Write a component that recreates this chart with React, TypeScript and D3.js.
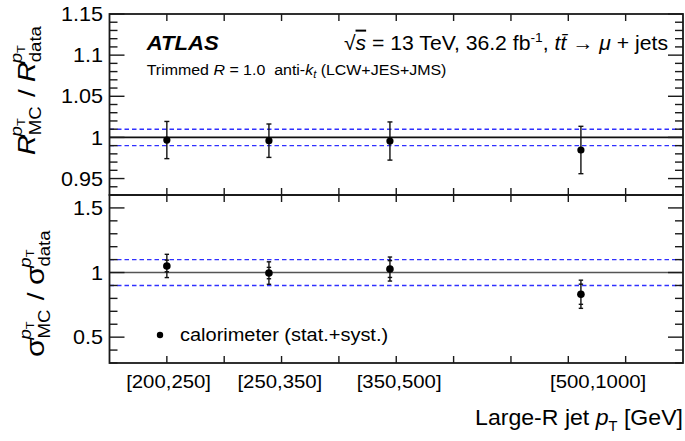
import React from "react";
import * as d3 from "d3";

const categories = ["[200,250]", "[250,350]", "[350,500]", "[500,1000]"];
const labelPos = [1.03, 2.97, 5.05, 8.52];
const pointPos = [1.0, 2.78, 4.89, 8.22];

const ratioR = [0.9968, 0.996, 0.9956, 0.9847];
const ratioRErr = [0.0226, 0.0203, 0.0232, 0.0288];

const ratioSigma = [1.051, 0.996, 1.027, 0.832];
const sigmaErrTot = [0.09, 0.087, 0.093, 0.109];
const sigmaErrStat = [0.045, 0.044, 0.065, 0.078];

const bandTop = [0.99, 1.01];
const bandBottom = [0.9, 1.1];

const topTicksMajor = [0.95, 1.0, 1.05, 1.1, 1.15];
const topTickLabels = ["0.95", "1", "1.05", "1.1", "1.15"];
const bottomTicksMajor = [0.5, 1.0, 1.5];
const bottomTickLabels = ["0.5", "1", "1.5"];

const W = 685;
const H = 441;
const L = 109.5;
const R = 683;
const T0 = 14;
const MID = 195;
const B = 363;

const FONT = "'Liberation Sans', Arial, Helvetica, sans-serif";

function Txt(props: any) {
  const { x, y, size, sx = 1.1, anchor = "start", children, weight, style, fill = "#000" } = props;
  return (
    <text
      transform={`translate(${x},${y}) scale(${sx},1)`}
      textAnchor={anchor}
      fontSize={size}
      fontFamily={FONT}
      fontWeight={weight}
      fontStyle={style}
      fill={fill}
    >
      {children}
    </text>
  );
}

export default function App() {
  const x = d3.scaleLinear().domain([0, 10]).range([L, R]);
  const yT = d3.scaleLinear().domain([0.93, 1.15]).range([MID, T0]);
  const yB = d3.scaleLinear().domain([0.3, 1.6]).range([B, MID]);

  const xTicks = d3.range(1, 10);
  const topMinor = d3.range(0, 23).map((i) => 0.93 + i * 0.01).filter((v) => v <= 1.1501);
  const botMinor = d3.range(0, 14).map((i) => 0.3 + i * 0.1).filter((v) => v <= 1.6001);

  const isMajor = (v: number, arr: number[]) => arr.some((m) => Math.abs(m - v) < 1e-6);

  const stroke = "#1a1a1a";

  return (
    <svg width={W} height={H} style={{ position: "absolute", left: 0, top: 0 }}>
      <rect width={W} height={H} fill="#fff" />

      {/* Top panel bands */}
      {bandTop.map((v, i) => (
        <line key={"bt" + i} x1={L} x2={R} y1={yT(v)} y2={yT(v)} stroke="#3030ff" strokeWidth={1.4} strokeDasharray="4.5,3" />
      ))}
      <line x1={L} x2={R} y1={yT(1)} y2={yT(1)} stroke="#111" strokeWidth={1.6} />

      {/* Bottom panel bands */}
      {bandBottom.map((v, i) => (
        <line key={"bb" + i} x1={L} x2={R} y1={yB(v)} y2={yB(v)} stroke="#3030ff" strokeWidth={1.4} strokeDasharray="4.5,3" />
      ))}
      <line x1={L} x2={R} y1={yB(1)} y2={yB(1)} stroke="#555" strokeWidth={1.6} />

      {/* Top points */}
      {ratioR.map((v, i) => {
        const px = x(pointPos[i]);
        const y1 = yT(v + ratioRErr[i]);
        const y2 = yT(v - ratioRErr[i]);
        return (
          <g key={"pt" + i} stroke="#111" strokeWidth={1.4}>
            <line x1={px} x2={px} y1={y1} y2={y2} />
            <line x1={px - 2.5} x2={px + 2.5} y1={y1} y2={y1} />
            <line x1={px - 2.5} x2={px + 2.5} y1={y2} y2={y2} />
            <circle cx={px} cy={yT(v)} r={3.6} fill="#000" stroke="none" />
          </g>
        );
      })}

      {/* Bottom points */}
      {ratioSigma.map((v, i) => {
        const px = x(pointPos[i]);
        const y1 = yB(v + sigmaErrTot[i]);
        const y2 = yB(v - sigmaErrTot[i]);
        const s1 = yB(v + sigmaErrStat[i]);
        const s2 = yB(v - sigmaErrStat[i]);
        return (
          <g key={"pb" + i} stroke="#111" strokeWidth={1.4}>
            <line x1={px} x2={px} y1={y1} y2={y2} />
            <line x1={px - 2.2} x2={px + 2.2} y1={y1} y2={y1} />
            <line x1={px - 2.2} x2={px + 2.2} y1={y2} y2={y2} />
            <line x1={px - 2.2} x2={px + 2.2} y1={s1} y2={s1} />
            <line x1={px - 2.2} x2={px + 2.2} y1={s2} y2={s2} />
            <circle cx={px} cy={yB(v)} r={3.8} fill="#000" stroke="none" />
          </g>
        );
      })}

      {/* Frames */}
      <rect x={L} y={T0} width={R - L} height={MID - T0} fill="none" stroke={stroke} strokeWidth={1.8} />
      <rect x={L} y={MID} width={R - L} height={B - MID} fill="none" stroke={stroke} strokeWidth={1.8} />

      {/* X ticks */}
      {xTicks.map((t) => (
        <g key={"xt" + t} stroke={stroke} strokeWidth={1.4}>
          <line x1={x(t)} x2={x(t)} y1={T0} y2={T0 + 7} />
          <line x1={x(t)} x2={x(t)} y1={MID} y2={MID - 7} />
          <line x1={x(t)} x2={x(t)} y1={MID} y2={MID + 7} />
          <line x1={x(t)} x2={x(t)} y1={B} y2={B - 7} />
        </g>
      ))}

      {/* Y ticks */}
      {topMinor.map((v, i) => {
        const len = isMajor(v, topTicksMajor) ? 15 : 8;
        return (
          <g key={"yt" + i} stroke={stroke} strokeWidth={1.4}>
            <line x1={L} x2={L + len} y1={yT(v)} y2={yT(v)} />
            <line x1={R} x2={R - len} y1={yT(v)} y2={yT(v)} />
          </g>
        );
      })}
      {botMinor.map((v, i) => {
        const len = isMajor(v, bottomTicksMajor) ? 15 : 8;
        return (
          <g key={"yb" + i} stroke={stroke} strokeWidth={1.4}>
            <line x1={L} x2={L + len} y1={yB(v)} y2={yB(v)} />
            <line x1={R} x2={R - len} y1={yB(v)} y2={yB(v)} />
          </g>
        );
      })}

      {/* Y tick labels */}
      {topTicksMajor.map((v, i) => (
        <Txt key={"ytl" + i} x={103} y={yT(v) + 7.2} size={20} sx={1.08} anchor="end">
          {topTickLabels[i]}
        </Txt>
      ))}
      {bottomTicksMajor.map((v, i) => (
        <Txt key={"ybl" + i} x={103} y={yB(v) + 7.2} size={20} sx={1.08} anchor="end">
          {bottomTickLabels[i]}
        </Txt>
      ))}

      {/* X category labels */}
      {categories.map((c, i) => (
        <Txt key={"xl" + i} x={x(labelPos[i])} y={388} size={18.5} sx={1.1} anchor="middle">
          {c}
        </Txt>
      ))}

      {/* X axis title */}
      <g transform={`translate(683,425) scale(1.05,1)`}>
        <text textAnchor="end" fontFamily={FONT} fontSize={22} fill="#000">
          Large-R jet <tspan fontStyle="italic">p</tspan>
          <tspan fontSize={14} dy={6}>T</tspan>
          <tspan dy={-6}> [GeV]</tspan>
        </text>
      </g>

      {/* Y title top */}
      <g transform={`translate(35,155) rotate(-90) scale(1.16,1)`} fontFamily={FONT} fill="#000">
        <text x={0} y={0} fontSize={24} fontStyle="italic">R</text>
        <text x={16} y={-13} fontSize={16} fontStyle="italic">p</text>
        <text x={25} y={-10} fontSize={11}>T</text>
        <text x={17} y={6} fontSize={16}>MC</text>
        <text x={50} y={0} fontSize={24}>/</text>
        <text x={63} y={0} fontSize={24} fontStyle="italic">R</text>
        <text x={79} y={-13} fontSize={16} fontStyle="italic">p</text>
        <text x={88} y={-10} fontSize={11}>T</text>
        <text x={80} y={6} fontSize={16}>data</text>
      </g>

      {/* Y title bottom */}
      <g transform={`translate(44,357) rotate(-90) scale(1.16,1)`} fontFamily={FONT} fill="#000">
        <text x={0} y={0} fontSize={26}>σ</text>
        <text x={15} y={-13} fontSize={16} fontStyle="italic">p</text>
        <text x={24} y={-10} fontSize={11}>T</text>
        <text x={16} y={6} fontSize={16}>MC</text>
        <text x={49} y={0} fontSize={24}>/</text>
        <text x={62} y={0} fontSize={26}>σ</text>
        <text x={77} y={-13} fontSize={16} fontStyle="italic">p</text>
        <text x={86} y={-10} fontSize={11}>T</text>
        <text x={78} y={6} fontSize={16}>data</text>
      </g>

      {/* ATLAS label */}
      <Txt x={146.7} y={50} size={20.5} sx={1.08} weight="bold" style="italic">
        ATLAS
      </Txt>
      <g transform={`translate(146.7,75) scale(1.1,1)`}>
        <text fontFamily={FONT} fontSize={14.5} fill="#000">
          Trimmed <tspan fontStyle="italic">R</tspan> = 1.0{"\u00a0\u00a0"}anti-<tspan fontStyle="italic">k</tspan>
          <tspan fontSize={10} dy={3} fontStyle="italic">t</tspan>
          <tspan dy={-3}> (LCW+JES+JMS)</tspan>
        </text>
      </g>

      <g transform={`translate(668,50) scale(1.06,1)`}>
        <text fontFamily={FONT} fontSize={20} fill="#000" textAnchor="end">
          √<tspan fontStyle="italic" textDecoration="overline">s</tspan> = 13 TeV, 36.2 fb<tspan fontSize={13} dy={-8}>-1</tspan>
          <tspan dy={8}>, </tspan>
          <tspan fontStyle="italic">t</tspan>
          <tspan fontStyle="italic">t̄</tspan> → <tspan fontStyle="italic">μ</tspan> + jets
        </text>
      </g>

      {/* Legend */}
      <circle cx={160} cy={335} r={3.2} fill="#000" />
      <Txt x={180} y={341} size={18.5} sx={1.08}>
        calorimeter (stat.+syst.)
      </Txt>
    </svg>
  );
}
